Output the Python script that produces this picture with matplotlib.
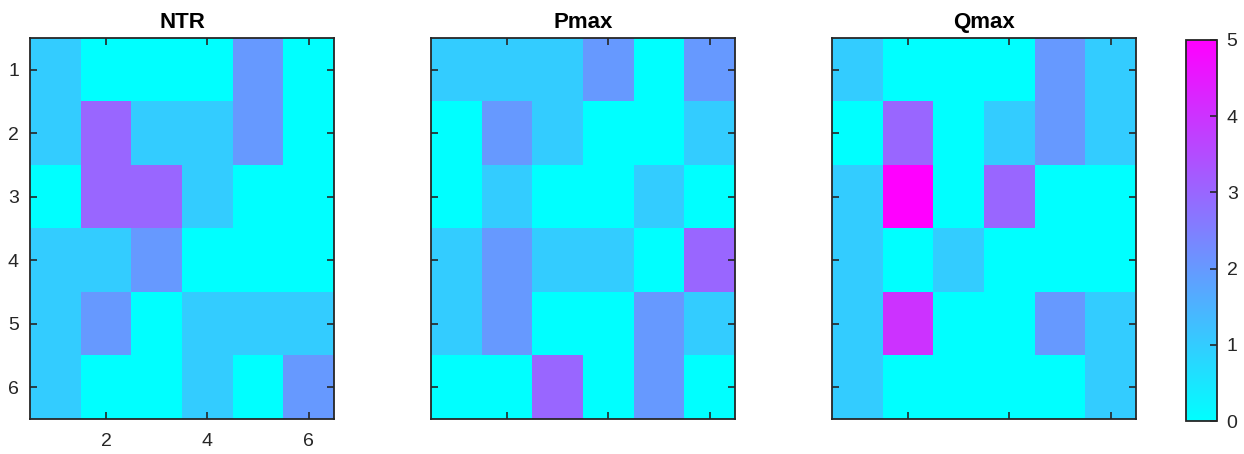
import matplotlib
matplotlib.use("Agg")
import matplotlib.pyplot as plt
import numpy as np

plt.rcParams["font.family"] = ["Liberation Sans", "DejaVu Sans"]

TITLES = ["NTR", "Pmax", "Qmax"]

NTR = [
    [1, 0, 0, 0, 2, 0],
    [1, 3, 1, 1, 2, 0],
    [0, 3, 3, 1, 0, 0],
    [1, 1, 2, 0, 0, 0],
    [1, 2, 0, 1, 1, 1],
    [1, 0, 0, 1, 0, 2],
]

PMAX = [
    [1, 1, 1, 2, 0, 2],
    [0, 2, 1, 0, 0, 1],
    [0, 1, 0, 0, 1, 0],
    [1, 2, 1, 1, 0, 3],
    [1, 2, 0, 0, 2, 1],
    [0, 0, 3, 0, 2, 0],
]

QMAX = [
    [1, 0, 0, 0, 2, 1],
    [0, 3, 0, 1, 2, 1],
    [1, 5, 0, 3, 0, 0],
    [1, 0, 1, 0, 0, 0],
    [1, 4, 0, 0, 2, 1],
    [1, 0, 0, 0, 0, 1],
]

X_TICKS = [2, 4, 6]
Y_TICKS = [1, 2, 3, 4, 5, 6]
CBAR_TICKS = [0, 1, 2, 3, 4, 5]

EDGE = "#262626"

W, H = 1244, 454
fig = plt.figure(figsize=(W / 100, H / 100), dpi=100)


def px_axes(x0, y0, x1, y1):
    return fig.add_axes([x0 / W, 1 - y1 / H, (x1 - x0) / W, (y1 - y0) / H])


lefts = [30, 431, 832]
for i, (title, data) in enumerate(zip(TITLES, [NTR, PMAX, QMAX])):
    ax = px_axes(lefts[i], 38, lefts[i] + 304, 419)
    im = ax.imshow(np.array(data), cmap="cool", vmin=0, vmax=5,
                   extent=(0.5, 6.5, 6.5, 0.5), aspect="auto",
                   interpolation="nearest")
    ax.set_xticks(X_TICKS)
    ax.set_yticks(Y_TICKS)
    ax.tick_params(direction="in", top=True, right=True, length=5,
                   width=1.2, color=EDGE, labelsize=14, labelcolor="#262626")
    ax.tick_params(axis="x", pad=10)
    ax.tick_params(axis="y", pad=8)
    if i > 0:
        ax.set_xticklabels([])
        ax.set_yticklabels([])
    for sp in ax.spines.values():
        sp.set_color(EDGE)
        sp.set_linewidth(1.3)
    ax.set_title(title, fontsize=16, fontweight="bold", pad=7)

cax = px_axes(1186, 40, 1217, 421)
cb = fig.colorbar(im, cax=cax, ticks=CBAR_TICKS)
cb.outline.set_edgecolor(EDGE)
cb.outline.set_linewidth(1.3)
cax.tick_params(direction="in", length=5, width=1.2, color=EDGE,
                labelsize=14, labelcolor="#262626", pad=7)

fig.savefig("out.png", dpi=100)
